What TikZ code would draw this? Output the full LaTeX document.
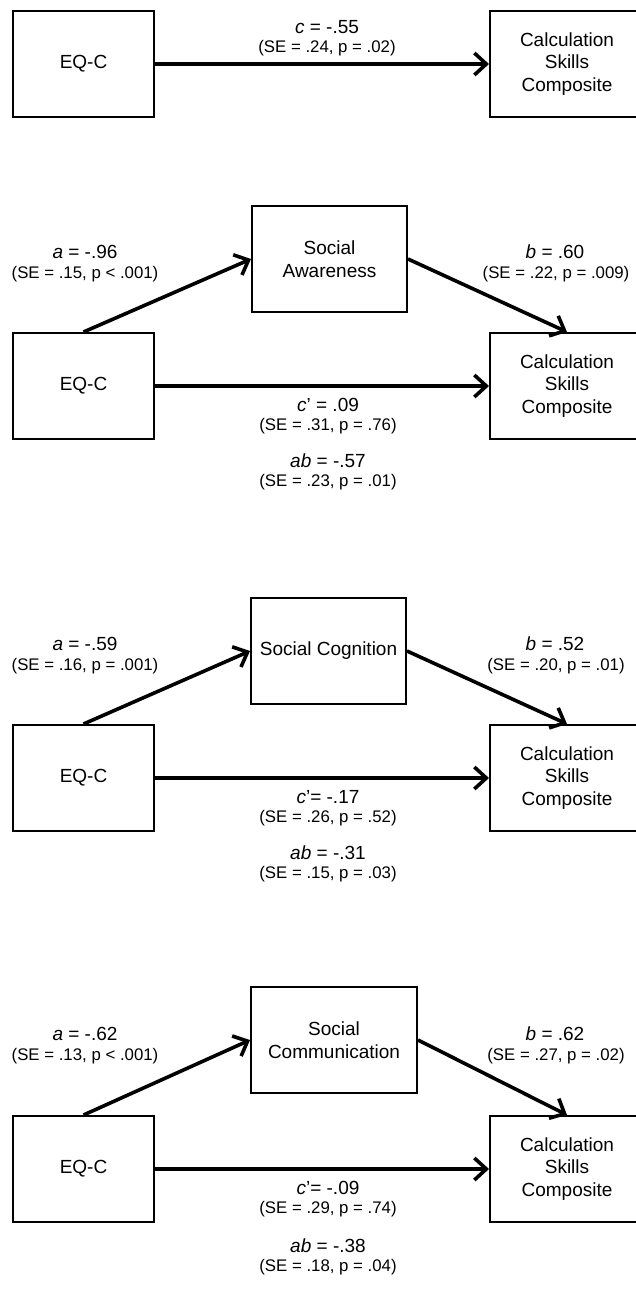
\documentclass[tikz,border=0pt]{standalone}
\usepackage{fontspec}
\setmainfont{Liberation Sans}
\usetikzlibrary{arrows.meta}
\newcommand\boxfont{\fontsize{19}{22.5}\selectfont}
\newcommand\coeffont{\fontsize{19}{22}\selectfont}
\newcommand\sefont{\fontsize{16.8}{20}\selectfont}
\tikzset{
  box/.style={draw, line width=2pt, minimum height=106pt, inner sep=0pt, align=center, font=\boxfont},
  coef/.style={anchor=base, inner sep=0pt, font=\coeffont},
  se/.style={anchor=base, inner sep=0pt, font=\sefont},
  arr/.style={line width=3.6pt, -{Straight Barb[length=12pt,width=22pt]}}
}
\begin{document}
\begin{tikzpicture}[x=1pt,y=-1pt]
\fill[white] (0,0) rectangle (636,1289);
\useasboundingbox (0,0) rectangle (636,1289);

% ---------- Panel 1 ----------
\node[box, minimum width=141pt] (eq1) at (83.5,64) {EQ-C};
\node[box, minimum width=154pt] (calc1) at (567,64) {Calculation\\Skills\\Composite};
\draw[arr] (eq1.east) -- (calc1.west);
\node[coef] (c1) at (327,33.5) {\textit{c} = -.55};
\node[se] (c1se) at (327,53) {(SE = .24, p = .02)};

% ---------- Panel 2 ----------
\node[box, minimum width=155pt] (med2) at (329.5,259) {Social\\Awareness};
\node[box, minimum width=141pt] (eq2) at (83.5,386) {EQ-C};
\node[box, minimum width=154pt] (calc2) at (567,386) {Calculation\\Skills\\Composite};
\draw[arr] (eq2.north) -- (med2.west);
\draw[arr] (med2.east) -- (calc2.north);
\draw[arr] (eq2.east) -- (calc2.west);
\node[coef] (a2) at (85,258.5) {\textit{a} = -.96};
\node[se] (a2se) at (85,278.5) {(SE = .15, p < .001)};
\node[coef] (b2) at (555,258.5) {\textit{b} = .60};
\node[se] (b2se) at (556,278.5) {(SE = .22, p = .009)};
\node[coef] (c2) at (328,411.5) {\textit{c}’ = .09};
\node[se] (c2se) at (328,430.5) {(SE = .31, p = .76)};
\node[coef] (ab2) at (328,467) {\textit{ab} = -.57};
\node[se] (ab2se) at (328,486.5) {(SE = .23, p = .01)};

% ---------- Panel 3 ----------
\node[box, minimum width=155pt] (med3) at (328.5,651) {Social Cognition};
\node[box, minimum width=141pt] (eq3) at (83.5,778) {EQ-C};
\node[box, minimum width=154pt] (calc3) at (567,778) {Calculation\\Skills\\Composite};
\draw[arr] (eq3.north) -- (med3.west);
\draw[arr] (med3.east) -- (calc3.north);
\draw[arr] (eq3.east) -- (calc3.west);
\node[coef] (a3) at (85,650.5) {\textit{a} = -.59};
\node[se] (a3se) at (85,670.5) {(SE = .16, p = .001)};
\node[coef] (b3) at (555,650.5) {\textit{b} = .52};
\node[se] (b3se) at (556,670.5) {(SE = .20, p = .01)};
\node[coef] (c3) at (328,803.5) {\textit{c}’= -.17};
\node[se] (c3se) at (328,822.5) {(SE = .26, p = .52)};
\node[coef] (ab3) at (328,859) {\textit{ab} = -.31};
\node[se] (ab3se) at (328,878.5) {(SE = .15, p = .03)};

% ---------- Panel 4 ----------
\node[box, minimum width=166pt] (med4) at (334,1040) {Social\\Communication};
\node[box, minimum width=141pt] (eq4) at (83.5,1169) {EQ-C};
\node[box, minimum width=154pt] (calc4) at (567,1169) {Calculation\\Skills\\Composite};
\draw[arr] (eq4.north) -- (med4.west);
\draw[arr] (med4.east) -- (calc4.north);
\draw[arr] (eq4.east) -- (calc4.west);
\node[coef] (a4) at (85,1040.5) {\textit{a} = -.62};
\node[se] (a4se) at (85,1060.5) {(SE = .13, p < .001)};
\node[coef] (b4) at (555,1040.5) {\textit{b} = .62};
\node[se] (b4se) at (556,1060.5) {(SE = .27, p = .02)};
\node[coef] (c4) at (328,1194.5) {\textit{c}’= -.09};
\node[se] (c4se) at (328,1213.5) {(SE = .29, p = .74)};
\node[coef] (ab4) at (328,1252) {\textit{ab} = -.38};
\node[se] (ab4se) at (328,1271.5) {(SE = .18, p = .04)};
\end{tikzpicture}
\end{document}
